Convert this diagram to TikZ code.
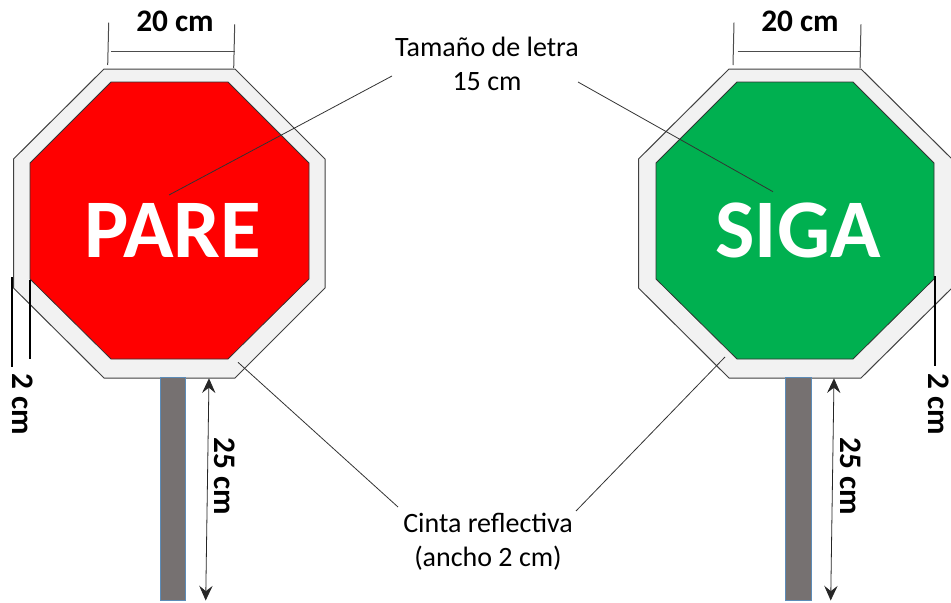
\documentclass[tikz,border=0pt]{standalone}
\usepackage{xcolor}
\usepackage{fontspec}
\setmainfont{Carlito}
\usepackage{tikz}
\usetikzlibrary{arrows.meta}
\definecolor{bandgray}{rgb}{0.949,0.949,0.949}
\definecolor{polegray}{rgb}{0.463,0.443,0.443}
\definecolor{poleblue}{rgb}{0.36,0.55,0.72}
\definecolor{signred}{rgb}{1,0,0}
\definecolor{signgreen}{rgb}{0,0.69,0.314}
\tikzset{
    band/.style={draw=black!75,line width=0.75pt,fill=bandgray},
    face/.style={draw=black!80,line width=0.6pt},
    pole/.style={draw=poleblue,line width=0.75pt,fill=polegray},
    tick/.style={draw=black!70,line width=0.75pt},
    leader/.style={draw=black!80,line width=0.6pt},
    gauge/.style={draw=black,line width=1.4pt},
    height/.style={draw=black!85,line width=0.6pt,{Stealth[length=11pt,width=10pt,inset=4pt]}-{Stealth[length=11pt,width=10pt,inset=4pt]}},
    signtext/.style={inner sep=0.75pt,text=white,font=\fontsize{62.5}{62.5}\selectfont\bfseries},
    dimtext/.style={inner sep=0.75pt,font=\fontsize{23.5}{23.5}\selectfont\bfseries},
    calltext/.style={inner sep=0.75pt,align=center,font=\fontsize{21}{25.5}\selectfont}
}
\begin{document}
\begin{tikzpicture}[x=0.75pt,y=0.75pt,yscale=-1,xscale=1]
        \useasboundingbox (0,0) rectangle (951,603);
        % left sign
        \draw [band] (104,69) -- (235,69) -- (325,159) -- (325,288) -- (235,378) -- (104,378) -- (13.5,288) -- (13.5,159) -- cycle;
        \draw [face,fill=signred] (111,82) -- (228,82) -- (309,163) -- (309,279) -- (228,359) -- (111,359) -- (30,279) -- (30,163) -- cycle;
        \draw [pole] (160,377) rectangle (185.5,600.5);
        % right sign
        \draw [band] (729,69) -- (861,69) -- (952,159) -- (952,288) -- (861,378) -- (729,378) -- (638.5,288) -- (638.5,159) -- cycle;
        \draw [face,fill=signgreen] (737,82) -- (853,82) -- (934,163) -- (934,279) -- (853,359) -- (737,359) -- (656,279) -- (656,163) -- cycle;
        \draw [pole] (785.5,377) rectangle (811.5,600.5);
        % texts
        \node [signtext] (pare) at (173,230) {PARE};
        \node [signtext] (siga) at (798,230) {SIGA};
        \node [dimtext] (widthL) at (175,21) {20 cm};
        \node [dimtext] (widthR) at (800,21) {20 cm};
        \node [dimtext,rotate=-90] (bandL) at (23,404) {2 cm};
        \node [dimtext,rotate=-90] (bandR) at (939,404) {2 cm};
        \node [dimtext,rotate=-90] (poleL) at (225,476.5) {25 cm};
        \node [dimtext,rotate=-90] (poleR) at (850.5,476.5) {25 cm};
        \node [calltext] (letter) at (487,64) {Tamaño de letra\\15 cm};
        \node [calltext] (tape) at (488,542) {Cinta reflectiva\\(ancho 2 cm)};
        % width ticks
        \coordinate (wa1) at (108.7,22.7);
        \coordinate (wa2) at (107.7,65);
        \coordinate (wb1) at (234.7,24.3);
        \coordinate (wb2) at (233.7,68);
        \coordinate (wc1) at (111,51.7);
        \coordinate (wc2) at (234.7,51.7);
        \draw [tick] (wa1) -- (wa2);
        \draw [tick] (wb1) -- (wb2);
        \draw [tick] (wc1) -- (wc2);
        \coordinate (xa1) at (734,22.7);
        \coordinate (xa2) at (733,65);
        \coordinate (xb1) at (861,24.3);
        \coordinate (xb2) at (860,68);
        \coordinate (xc1) at (737.7,51.7);
        \coordinate (xc2) at (860.7,51.7);
        \draw [tick] (xa1) -- (xa2);
        \draw [tick] (xb1) -- (xb2);
        \draw [tick] (xc1) -- (xc2);
        % band gauges
        \coordinate (ga1) at (12.3,277);
        \coordinate (ga2) at (12.3,367);
        \coordinate (gb1) at (30.3,280);
        \coordinate (gb2) at (30.3,359);
        \coordinate (gc1) at (934.7,276);
        \coordinate (gc2) at (934.7,366);
        \draw [gauge] (ga1) -- (ga2);
        \draw [gauge] (gb1) -- (gb2);
        \draw [gauge] (gc1) -- (gc2);
        % pole heights
        \coordinate (ha1) at (209,378.3);
        \coordinate (ha2) at (205.7,600.5);
        \coordinate (hb1) at (834,378.3);
        \coordinate (hb2) at (830.7,600.5);
        \draw [height] (ha1) -- (ha2);
        \draw [height] (hb1) -- (hb2);
        % callout lines
        \coordinate (la1) at (392,76);
        \coordinate (la2) at (169,195);
        \coordinate (lb1) at (578,82);
        \coordinate (lb2) at (773,191.7);
        \coordinate (ta1) at (398,507);
        \coordinate (ta2) at (238,362.3);
        \coordinate (tb1) at (576,511);
        \coordinate (tb2) at (725,357);
        \draw [leader] (la1) -- (la2);
        \draw [leader] (lb1) -- (lb2);
        \draw [leader] (ta1) -- (ta2);
        \draw [leader] (tb1) -- (tb2);
    \end{tikzpicture}
\end{document}
